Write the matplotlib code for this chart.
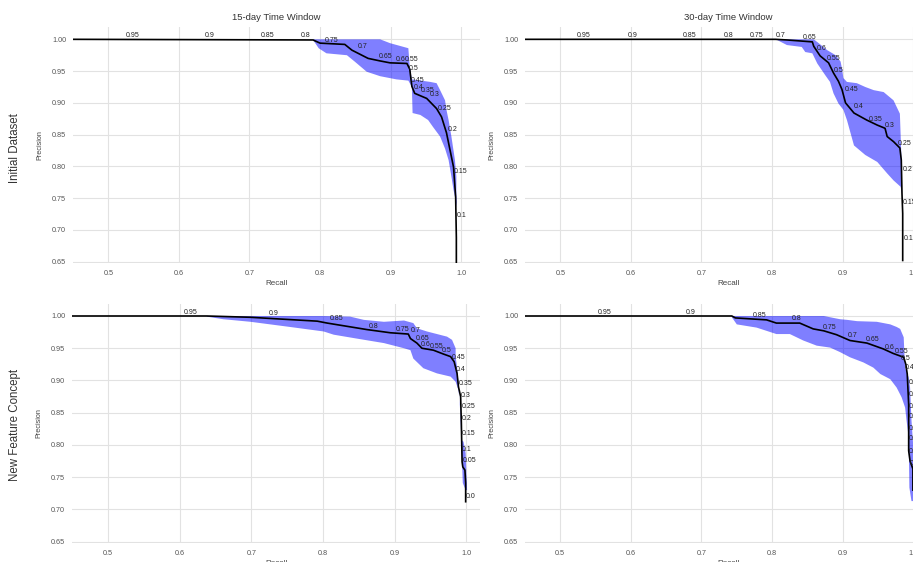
import matplotlib
matplotlib.use("Agg")
import matplotlib.pyplot as plt

plt.rcParams['font.family'] = ['Liberation Sans', 'DejaVu Sans']

col_titles = ['15-day Time Window', '30-day Time Window']
row_titles = ['Initial Dataset', 'New Feature Concept']

# ---- Initial dataset, 15-day window ----
tl_rec = [0.45, 0.790, 0.800, 0.835, 0.845, 0.868, 0.885, 0.899, 0.923, 0.927, 0.930,
          0.934, 0.951, 0.965, 0.972, 0.979, 0.989, 0.992, 0.993, 0.993]
tl_prec = [1.0, 0.999, 0.994, 0.992, 0.983, 0.970, 0.966, 0.963, 0.962, 0.953, 0.926,
           0.915, 0.907, 0.891, 0.878, 0.853, 0.799, 0.752, 0.688, 0.648]
tl_up_rec = [0.790, 0.885, 0.899, 0.925, 0.927, 0.930, 0.956, 0.965, 0.970, 0.977, 0.979,
             0.982, 0.986, 0.991, 0.993, 0.993, 0.994]
tl_up_prec = [1.0, 1.0, 0.994, 0.986, 0.957, 0.937, 0.933, 0.931, 0.920, 0.904, 0.889,
              0.873, 0.847, 0.810, 0.784, 0.757, 0.736]
tl_lo_rec = [0.790, 0.798, 0.809, 0.838, 0.849, 0.866, 0.885, 0.908, 0.925, 0.930, 0.931,
             0.942, 0.953, 0.960, 0.970, 0.977, 0.982, 0.986, 0.989, 0.991]
tl_lo_prec = [0.999, 0.986, 0.978, 0.975, 0.965, 0.949, 0.942, 0.937, 0.935, 0.925, 0.884,
              0.881, 0.873, 0.862, 0.847, 0.828, 0.810, 0.784, 0.763, 0.752]
tl_thr = ['0.95', '0.9', '0.85', '0.8', '0.75', '0.7', '0.65', '0.6', '0.55', '0.5', '0.45',
          '0.4', '0.35', '0.3', '0.25', '0.2', '0.15', '0.1']
tl_thr_rec = [0.525, 0.637, 0.716, 0.773, 0.807, 0.853, 0.883, 0.907, 0.920, 0.926, 0.929,
              0.932, 0.942, 0.955, 0.967, 0.981, 0.990, 0.993]
tl_thr_prec = [1.0, 1.0, 1.0, 1.0, 0.993, 0.983, 0.967, 0.963, 0.963, 0.948, 0.930,
               0.919, 0.914, 0.907, 0.886, 0.852, 0.786, 0.718]

# ---- Initial dataset, 30-day window ----
tr_rec = [0.45, 0.805, 0.821, 0.845, 0.857, 0.859, 0.868, 0.880, 0.887, 0.894, 0.899, 0.904,
          0.916, 0.934, 0.949, 0.960, 0.963, 0.972, 0.981, 0.983, 0.984, 0.985, 0.985]
tr_prec = [1.0, 1.0, 0.999, 0.997, 0.996, 0.989, 0.974, 0.963, 0.947, 0.934, 0.921, 0.900,
           0.884, 0.873, 0.865, 0.860, 0.847, 0.839, 0.829, 0.810, 0.757, 0.726, 0.652]
tr_up_rec = [0.805, 0.859, 0.866, 0.878, 0.890, 0.897, 0.899, 0.901, 0.906, 0.920, 0.932,
             0.944, 0.958, 0.972, 0.981, 0.983, 0.984]
tr_up_prec = [1.0, 1.0, 0.994, 0.983, 0.975, 0.965, 0.954, 0.939, 0.933, 0.931, 0.925,
              0.920, 0.917, 0.904, 0.883, 0.820, 0.784]
tr_lo_rec = [0.807, 0.821, 0.842, 0.847, 0.857, 0.864, 0.875, 0.882, 0.887, 0.894, 0.901,
             0.906, 0.916, 0.932, 0.949, 0.963, 0.972, 0.982, 0.984]
tr_lo_prec = [0.999, 0.991, 0.988, 0.980, 0.978, 0.962, 0.944, 0.933, 0.915, 0.899, 0.889,
              0.873, 0.833, 0.818, 0.807, 0.789, 0.778, 0.768, 0.757]
tr_thr = ['0.95', '0.9', '0.85', '0.8', '0.75', '0.7', '0.65', '0.6', '0.55', '0.5', '0.45',
          '0.4', '0.35', '0.3', '0.25', '0.2', '0.15', '0.1']
tr_thr_rec = [0.523, 0.596, 0.673, 0.732, 0.768, 0.805, 0.843, 0.863, 0.878, 0.887, 0.903,
              0.916, 0.937, 0.960, 0.978, 0.985, 0.985, 0.986]
tr_thr_prec = [1.0, 1.0, 1.0, 1.0, 1.0, 1.0, 0.998, 0.980, 0.964, 0.945, 0.916,
               0.888, 0.869, 0.859, 0.831, 0.789, 0.738, 0.681]

# ---- New feature concept, 15-day window ----
bl_rec = [0.45, 0.638, 0.699, 0.745, 0.792, 0.806, 0.861, 0.894, 0.919, 0.922, 0.931, 0.938,
          0.954, 0.968, 0.978, 0.983, 0.987, 0.989, 0.992, 0.993, 0.994, 0.995, 0.998, 0.999, 0.999]
bl_prec = [1.0, 1.0, 0.998, 0.995, 0.992, 0.989, 0.979, 0.974, 0.972, 0.965, 0.958, 0.950,
           0.947, 0.941, 0.937, 0.929, 0.911, 0.890, 0.875, 0.834, 0.774, 0.766, 0.761, 0.741, 0.712]
bl_up_rec = [0.638, 0.801, 0.838, 0.857, 0.885, 0.913, 0.926, 0.931, 0.945, 0.959, 0.973,
             0.980, 0.985, 0.985, 0.987, 0.989, 0.991, 0.992, 0.993, 0.996, 0.999, 1.0, 1.001]
bl_up_prec = [1.0, 1.0, 0.999, 0.994, 0.991, 0.993, 0.989, 0.981, 0.976, 0.972, 0.968,
              0.963, 0.950, 0.937, 0.921, 0.896, 0.859, 0.834, 0.808, 0.805, 0.787, 0.756, 0.730]
bl_lo_rec = [0.638, 0.661, 0.699, 0.754, 0.801, 0.815, 0.847, 0.885, 0.913, 0.922, 0.926,
             0.940, 0.959, 0.978, 0.985, 0.989, 0.992, 0.993, 0.994, 0.995, 0.999]
bl_lo_prec = [0.999, 0.995, 0.991, 0.983, 0.976, 0.971, 0.965, 0.958, 0.950, 0.947, 0.934,
              0.919, 0.911, 0.906, 0.898, 0.885, 0.854, 0.823, 0.772, 0.741, 0.730]
bl_thr = ['0.95', '0.9', '0.85', '0.8', '0.75', '0.7', '0.65', '0.6', '0.55', '0.5', '0.45',
          '0.4', '0.35', '0.3', '0.25', '0.2', '0.15', '0.1', '0.05', '0.0']
bl_thr_rec = [0.606, 0.724, 0.809, 0.864, 0.902, 0.922, 0.929, 0.937, 0.949, 0.966, 0.979,
              0.985, 0.989, 0.992, 0.993, 0.993, 0.993, 0.993, 0.995, 0.999]
bl_thr_prec = [1.0, 0.998, 0.990, 0.979, 0.973, 0.972, 0.959, 0.951, 0.947, 0.941, 0.930,
               0.911, 0.890, 0.871, 0.854, 0.836, 0.813, 0.787, 0.771, 0.714]

# ---- New feature concept, 30-day window ----
br_rec = [0.45, 0.743, 0.748, 0.792, 0.806, 0.839, 0.858, 0.873, 0.891, 0.910, 0.934,
          0.957, 0.971, 0.986, 0.989, 0.991, 0.993, 0.993, 0.995, 0.999, 0.999]
br_prec = [1.0, 1.0, 0.997, 0.994, 0.989, 0.989, 0.980, 0.977, 0.971, 0.962, 0.958,
           0.949, 0.942, 0.936, 0.925, 0.910, 0.863, 0.791, 0.775, 0.763, 0.730]
br_up_rec = [0.743, 0.873, 0.896, 0.906, 0.920, 0.948, 0.967, 0.976, 0.981, 0.986, 0.987,
             0.988, 0.993, 0.995, 0.997, 0.999, 1.001, 1.003]
br_up_prec = [1.0, 1.0, 0.995, 0.994, 0.992, 0.991, 0.987, 0.983, 0.980, 0.967, 0.941,
              0.920, 0.905, 0.889, 0.838, 0.806, 0.786, 0.713]
br_lo_rec = [0.743, 0.750, 0.778, 0.806, 0.825, 0.844, 0.863, 0.882, 0.896, 0.910, 0.929,
             0.943, 0.953, 0.967, 0.976, 0.983, 0.988, 0.990, 0.993, 0.994, 0.997]
br_lo_prec = [0.998, 0.987, 0.982, 0.972, 0.972, 0.962, 0.954, 0.951, 0.944, 0.936, 0.928,
              0.920, 0.910, 0.902, 0.889, 0.874, 0.858, 0.838, 0.812, 0.734, 0.713]
br_thr = ['0.95', '0.9', '0.85', '0.8', '0.75', '0.7', '0.65', '0.6', '0.55', '0.5', '0.45',
          '0.4', '0.35', '0.3', '0.25', '0.2', '0.15', '0.1', '0.05', '0.0']
br_thr_rec = [0.554, 0.678, 0.773, 0.828, 0.871, 0.907, 0.933, 0.959, 0.974, 0.982, 0.988,
              0.993, 0.993, 0.993, 0.993, 0.993, 0.993, 0.993, 0.995, 0.999]
br_thr_prec = [1.0, 1.0, 0.995, 0.991, 0.977, 0.964, 0.958, 0.946, 0.940, 0.928, 0.915,
               0.891, 0.873, 0.854, 0.839, 0.820, 0.805, 0.784, 0.766, 0.730]

panels = [
    (tl_rec, tl_prec, tl_up_rec, tl_up_prec, tl_lo_rec, tl_lo_prec, tl_thr, tl_thr_rec, tl_thr_prec),
    (tr_rec, tr_prec, tr_up_rec, tr_up_prec, tr_lo_rec, tr_lo_prec, tr_thr, tr_thr_rec, tr_thr_prec),
    (bl_rec, bl_prec, bl_up_rec, bl_up_prec, bl_lo_rec, bl_lo_prec, bl_thr, bl_thr_rec, bl_thr_prec),
    (br_rec, br_prec, br_up_rec, br_up_prec, br_lo_rec, br_lo_prec, br_thr, br_thr_rec, br_thr_prec),
]

W, H = 913, 562
fig = plt.figure(figsize=(W / 100, H / 100), dpi=100)

# pixel boxes (left, top, right, bottom) and x limits
boxes = [(73, 27, 480, 263), (525, 27, 932, 263), (72, 304, 480, 543), (525, 304, 932, 543)]
xlims = [(0.45, 1.0265), (0.45, 1.0265), (0.45, 1.019), (0.4505, 1.026)]
ylims = [(0.648, 1.0194), (0.648, 1.0194), (0.648, 1.0186), (0.648, 1.0186)]

for i, (box, data) in enumerate(zip(boxes, panels)):
    l, t, r, b = box
    ax = fig.add_axes([l / W, (H - b) / H, (r - l) / W, (b - t) / H])
    rec, prec, up_r, up_p, lo_r, lo_p, thr, thr_r, thr_p = data

    ax.fill(up_r + lo_r[::-1], up_p + lo_p[::-1], color='blue', alpha=0.5, lw=0, zorder=2)
    ax.plot(rec, prec, color='black', lw=1.2, zorder=3)
    for lab, x, y in zip(thr, thr_r, thr_p):
        ax.text(x, y, lab, fontsize=5, color='#222222', ha='left', va='bottom', zorder=4)

    ax.set_xlim(*xlims[i])
    ax.set_ylim(*ylims[i])
    ax.set_xticks([0.5, 0.6, 0.7, 0.8, 0.9, 1.0])
    ax.set_yticks([0.65, 0.70, 0.75, 0.80, 0.85, 0.90, 0.95, 1.00])
    ax.set_yticklabels(['%.2f' % v for v in ax.get_yticks()])
    ax.grid(True, color='#e2e2e2', lw=0.8)
    ax.set_axisbelow(True)
    for s in ax.spines.values():
        s.set_visible(False)
    ax.tick_params(length=0, labelsize=5.2, labelcolor='#555555', pad=5)
    ax.set_xlabel('Recall', fontsize=5.8, color='#444444', labelpad=2)
    ax.set_ylabel('Precision', fontsize=5.2, color='#444444', labelpad=6)
    if i < 2:
        ax.set_title(col_titles[i], fontsize=6.8, color='#333333', pad=5)

fig.text(15 / W, 1 - 148 / H, row_titles[0], rotation=90, fontsize=8.3, color='#333333',
         ha='center', va='center')
fig.text(15 / W, 1 - 425 / H, row_titles[1], rotation=90, fontsize=8.3, color='#333333',
         ha='center', va='center')

fig.savefig('out.png', dpi=100, facecolor='white')
